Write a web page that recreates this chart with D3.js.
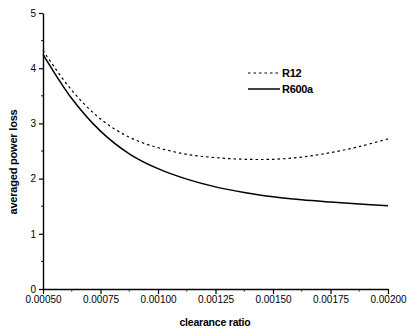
<!DOCTYPE html>
<html>
<head>
<meta charset="utf-8">
<script src="https://cdn.jsdelivr.net/npm/d3@7/dist/d3.min.js"></script>
<style>
  html, body { margin: 0; padding: 0; background: #fff; }
  svg { display: block; }
  text { font-family: "Liberation Sans", Arial, sans-serif; fill: #000; }
</style>
</head>
<body>
<svg id="chart" width="407" height="335"></svg>
<script>
// Clearance ratio (x) and averaged power loss for two refrigerants
const clearance = [0.0005, 0.000625, 0.00075, 0.000875, 0.001, 0.001125, 0.00125, 0.001375, 0.0015, 0.001625, 0.00175, 0.001875, 0.002];
const r12 = [4.32, 3.60, 3.08, 2.75, 2.56, 2.44, 2.38, 2.35, 2.35, 2.39, 2.47, 2.58, 2.72];
const r600a = [4.25, 3.45, 2.86, 2.45, 2.18, 1.99, 1.85, 1.75, 1.67, 1.615, 1.575, 1.54, 1.51];

const xTicks = [0.0005, 0.00075, 0.001, 0.00125, 0.0015, 0.00175, 0.002];
const xTickLabels = ["0.00050", "0.00075", "0.00100", "0.00125", "0.00150", "0.00175", "0.00200"];
const yTicks = [0, 1, 2, 3, 4, 5];

const series = [
  { name: "R12", values: r12, dash: "2.5,3", width: 1.2 },
  { name: "R600a", values: r600a, dash: null, width: 1.5 }
];

const svg = d3.select("#chart");
const x = d3.scaleLinear().domain([0.0005, 0.002]).range([43, 388]);
const y = d3.scaleLinear().domain([0, 5]).range([289, 13]);

// x axis
const xAxis = d3.axisBottom(x)
  .tickValues(xTicks)
  .tickFormat((d, i) => xTickLabels[i])
  .tickSize(5)
  .tickSizeOuter(0)
  .tickPadding(2);
const gx = svg.append("g").attr("transform", "translate(0,289)").call(xAxis);
gx.select(".domain").attr("stroke", "#000").attr("stroke-width", 1.4);
gx.selectAll(".tick line").attr("stroke", "#000").attr("stroke-width", 1.2);
gx.selectAll(".tick text").attr("font-size", 10).attr("fill", "#000").attr("font-family", "Liberation Sans, Arial, sans-serif");

// x minor ticks
const xMinor = d3.range(xTicks.length - 1).map(i => (xTicks[i] + xTicks[i + 1]) / 2);
svg.append("g").selectAll("line").data(xMinor).join("line")
  .attr("x1", d => x(d)).attr("x2", d => x(d))
  .attr("y1", 289).attr("y2", 291.5)
  .attr("stroke", "#000").attr("stroke-width", 0.9);

// y axis
const yAxis = d3.axisLeft(y)
  .tickValues(yTicks)
  .tickFormat(d3.format("d"))
  .tickSize(4)
  .tickSizeOuter(0)
  .tickPadding(3);
const gy = svg.append("g").attr("transform", "translate(43,0)").call(yAxis);
gy.select(".domain").attr("stroke", "#000").attr("stroke-width", 1.4);
gy.selectAll(".tick line").attr("stroke", "#000").attr("stroke-width", 1.2);
gy.selectAll(".tick text").attr("font-size", 10).attr("fill", "#000").attr("font-family", "Liberation Sans, Arial, sans-serif");

// y minor ticks
const yMinor = d3.range(yTicks.length - 1).map(i => yTicks[i] + 0.5);
svg.append("g").selectAll("line").data(yMinor).join("line")
  .attr("x1", 41).attr("x2", 43)
  .attr("y1", d => y(d)).attr("y2", d => y(d))
  .attr("stroke", "#000").attr("stroke-width", 0.9);

// curves
const line = d3.line()
  .x((d, i) => x(clearance[i]))
  .y(d => y(d))
  .curve(d3.curveCatmullRom.alpha(0.5));

svg.append("g").selectAll("path").data(series).join("path")
  .attr("d", d => line(d.values))
  .attr("fill", "none")
  .attr("stroke", "#000")
  .attr("stroke-width", d => d.width)
  .attr("stroke-dasharray", d => d.dash);

// legend
const legend = svg.append("g");
const legendY = [73, 89];
series.forEach((s, i) => {
  legend.append("line")
    .attr("x1", 248).attr("x2", 280)
    .attr("y1", legendY[i]).attr("y2", legendY[i])
    .attr("stroke", "#000")
    .attr("stroke-width", s.width)
    .attr("stroke-dasharray", s.dash);
  legend.append("text")
    .attr("x", 282).attr("y", legendY[i])
    .attr("dy", "0.36em")
    .attr("font-size", 11).attr("font-weight", "bold")
    .attr("letter-spacing", -0.3)
    .text(s.name);
});

// axis titles
svg.append("text")
  .attr("x", 215).attr("y", 326)
  .attr("text-anchor", "middle")
  .attr("font-size", 10.5).attr("font-weight", "bold")
  .attr("letter-spacing", -0.2)
  .text("clearance ratio");

svg.append("text")
  .attr("transform", "translate(17,162) rotate(-90)")
  .attr("text-anchor", "middle")
  .attr("font-size", 11).attr("font-weight", "bold")
  .attr("letter-spacing", -0.2)
  .text("averaged power loss");
</script>
</body>
</html>
